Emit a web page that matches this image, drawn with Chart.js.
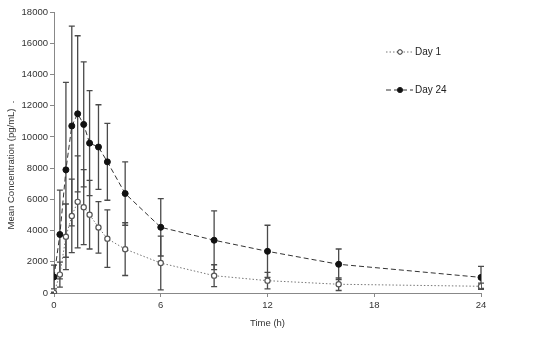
<!DOCTYPE html>
<html>
<head>
<meta charset="utf-8">
<script src="https://cdn.jsdelivr.net/npm/chart.js@4.4.0/dist/chart.umd.min.js"></script>
<style>
  html, body { margin: 0; padding: 0; background: #fff; }
  #wrap { width: 541px; height: 340px; position: relative; }
</style>
</head>
<body>
<div id="wrap"><canvas id="pkChart"></canvas></div>
<script>
// Sampling times (h)
const times = [0, 0.33, 0.67, 1, 1.33, 1.67, 2, 2.5, 3, 4, 6, 9, 12, 16, 24];

// Day 1 mean concentration and SD (pg/mL)
const day1Mean = [20, 1180, 3600, 4940, 5840, 5500, 5020, 4200, 3480, 2810, 1920, 1110, 790, 560, 430];
const day1Sd   = [40, 800, 2100, 2350, 2950, 2400, 2200, 1650, 1840, 1690, 1720, 700, 530, 400, 200];

// Day 24 mean concentration and SD (pg/mL)
const day24Mean = [1030, 3750, 7890, 10700, 11480, 10800, 9600, 9350, 8400, 6370, 4210, 3380, 2670, 1840, 1000];
const day24Sd   = [760, 2840, 5600, 6400, 5000, 4000, 3360, 2710, 2460, 2030, 1840, 1880, 1670, 980, 700];

// Axis ticks
const xTicks = [0, 6, 12, 18, 24];
const yTicks = [0, 2000, 4000, 6000, 8000, 10000, 12000, 14000, 16000, 18000];

const FONT = '"Liberation Sans", Arial, sans-serif';
Chart.defaults.font.family = FONT;
Chart.defaults.font.size = 9.5;
Chart.defaults.color = '#333';

function toPoints(means) {
    return times.map((t, i) => ({ x: t, y: means[i] }));
}

// Error bars drawn behind the markers
const errorBars = {
    id: 'errorBars',
    beforeDatasetsDraw(chart) {
        const ctx = chart.ctx;
        const xs = chart.scales.x;
        const ys = chart.scales.y;
        const sets = [[day1Mean, day1Sd], [day24Mean, day24Sd]];
        ctx.save();
        ctx.strokeStyle = '#4a4a4a';
        ctx.lineWidth = 1.3;
        sets.forEach(([means, sds]) => {
            times.forEach((t, i) => {
                const x = xs.getPixelForValue(t);
                const top = ys.getPixelForValue(means[i] + sds[i]);
                const bot = ys.getPixelForValue(Math.max(means[i] - sds[i], 0));
                ctx.beginPath();
                ctx.moveTo(x, top); ctx.lineTo(x, bot);
                ctx.moveTo(x - 3, top); ctx.lineTo(x + 3, top);
                ctx.moveTo(x - 3, bot); ctx.lineTo(x + 3, bot);
                ctx.stroke();
            });
        });
        ctx.restore();
    }
};

// Axis titles and legend
const decorations = {
    id: 'decorations',
    afterDraw(chart) {
        const ctx = chart.ctx;
        const area = chart.chartArea;
        ctx.save();
        ctx.fillStyle = '#333';
        ctx.font = '9.5px ' + FONT;
        ctx.textAlign = 'center';
        ctx.textBaseline = 'middle';
        ctx.fillText('Time (h)', (area.left + area.right) / 2, 323);

        ctx.translate(11, 165);
        ctx.rotate(-Math.PI / 2);
        ctx.fillText('Mean Concentration (pg/mL)  .', 0, 0);
        ctx.restore();

        // legend
        const items = [
            { label: 'Day 1', y: 52, dash: [1.5, 2], color: '#777', fill: '#fff', r: 2.3 },
            { label: 'Day 24', y: 90, dash: [5, 3], color: '#333', fill: '#111', r: 2.6 }
        ];
        items.forEach(it => {
            ctx.save();
            ctx.strokeStyle = it.color;
            ctx.lineWidth = 1;
            ctx.setLineDash(it.dash);
            ctx.beginPath();
            ctx.moveTo(386, it.y); ctx.lineTo(413, it.y);
            ctx.stroke();
            ctx.setLineDash([]);
            ctx.beginPath();
            ctx.arc(400, it.y, it.r, 0, Math.PI * 2);
            ctx.fillStyle = it.fill;
            ctx.fill();
            ctx.strokeStyle = '#222';
            ctx.stroke();
            ctx.fillStyle = '#222';
            ctx.font = '10px ' + FONT;
            ctx.textAlign = 'left';
            ctx.textBaseline = 'middle';
            ctx.fillText(it.label, 415, it.y);
            ctx.restore();
        });
    }
};

new Chart(document.getElementById('pkChart'), {
    type: 'line',
    data: {
        datasets: [
            {
                label: 'Day 1',
                data: toPoints(day1Mean),
                borderColor: '#777',
                borderWidth: 1,
                borderDash: [1.5, 2],
                pointRadius: 2.6,
                pointBorderWidth: 1.2,
                pointBackgroundColor: '#fff',
                pointBorderColor: '#555',
                tension: 0
            },
            {
                label: 'Day 24',
                data: toPoints(day24Mean),
                borderColor: '#333',
                borderWidth: 1,
                borderDash: [5, 3],
                pointRadius: 3,
                pointBackgroundColor: '#111',
                pointBorderColor: '#111',
                tension: 0
            }
        ]
    },
    options: {
        responsive: true,
        maintainAspectRatio: false,
        animation: false,
        layout: { padding: { left: 0, right: 60, top: 12, bottom: 0 } },
        plugins: {
            legend: { display: false },
            tooltip: { enabled: false }
        },
        scales: {
            x: {
                type: 'linear',
                min: 0,
                max: 24,
                afterBuildTicks: (scale) => { scale.ticks = xTicks.map(v => ({ value: v })); },
                afterFit: (scale) => { scale.height = 47; },
                grid: { drawOnChartArea: false, tickLength: 4, color: '#888' },
                border: { color: '#888' },
                ticks: { padding: 3, color: '#333', callback: (v) => String(v) }
            },
            y: {
                min: 0,
                max: 18000,
                afterBuildTicks: (scale) => { scale.ticks = yTicks.map(v => ({ value: v })); },
                afterFit: (scale) => { scale.width = 54; },
                grid: { drawOnChartArea: false, tickLength: 4, color: '#888' },
                border: { color: '#888' },
                ticks: { padding: 2, color: '#333', callback: (v) => String(v) }
            }
        }
    },
    plugins: [errorBars, decorations]
});
</script>
</body>
</html>
